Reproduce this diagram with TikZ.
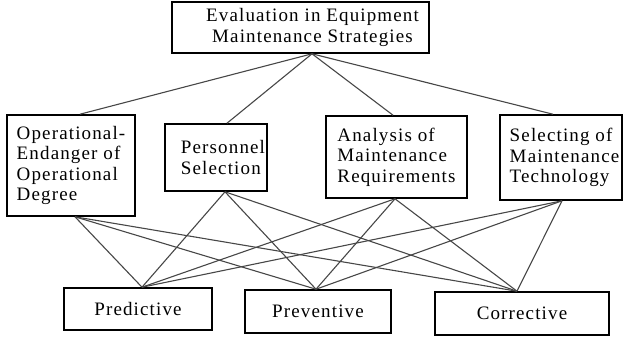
\documentclass[tikz,border=0pt]{standalone}
\usepackage{fontspec}
\setmainfont{Liberation Serif}[LetterSpace=6]
\begin{document}
\begin{tikzpicture}[x=1pt,y=-1pt,
  box/.style={draw=black,line width=1.6pt,inner sep=0pt,font=\fontsize{19}{20.5}\selectfont},
  conn/.style={draw=black!72,line width=1.1pt}]
\useasboundingbox (0,0) rectangle (624,341);
% boxes
\node[box,minimum width=257pt,minimum height=51pt,align=center] (top) at (300.5,27.5)
  {\hspace*{24pt}Evaluation in Equipment\\\hspace*{24pt}Maintenance Strategies};
\node[box,minimum width=128pt,minimum height=101pt,align=left] (op) at (71,165.5)
  {Operational-\\Endanger of\\Operational\\Degree};
\node[box,minimum width=102pt,minimum height=67pt,align=left] (ps) at (216,157.5)
  {\hspace*{14pt}Personnel\\\hspace*{14pt}Selection};
\node[box,minimum width=141pt,minimum height=82pt,align=left] (an) at (396.5,157)
  {Analysis of\\Maintenance\\Requirements};
\node[box,minimum width=122pt,minimum height=85pt,align=left] (se) at (561,157.5)
  {\hspace*{7pt}Selecting of\\\hspace*{7pt}Maintenance\\\hspace*{7pt}Technology};
\node[box,minimum width=148pt,minimum height=42pt] (pd) at (138,309) {Predictive};
\node[box,minimum width=146pt,minimum height=43pt] (pv) at (318,311.5) {Preventive};
\node[box,minimum width=174pt,minimum height=43pt] (co) at (522,313.5) {Corrective};
% top connectors
\draw[conn] ([xshift=11.5pt]top.south) -- ([xshift=9pt]op.north);
\draw[conn] ([xshift=11.5pt]top.south) -- ([xshift=11pt]ps.north);
\draw[conn] ([xshift=11.5pt]top.south) -- ([xshift=-3.5pt]an.north);
\draw[conn] ([xshift=11.5pt]top.south) -- ([xshift=-8pt]se.north);
% bottom connectors
\foreach \m/\dx in {op/4, ps/9, an/-1.5, se/1}{
  \draw[conn] ([xshift=\dx pt]\m.south) -- ([xshift=4pt]pd.north);
  \draw[conn] ([xshift=\dx pt]\m.south) -- ([xshift=-2pt]pv.north);
  \draw[conn] ([xshift=\dx pt]\m.south) -- ([xshift=-5pt]co.north);
}
\end{tikzpicture}
\end{document}
